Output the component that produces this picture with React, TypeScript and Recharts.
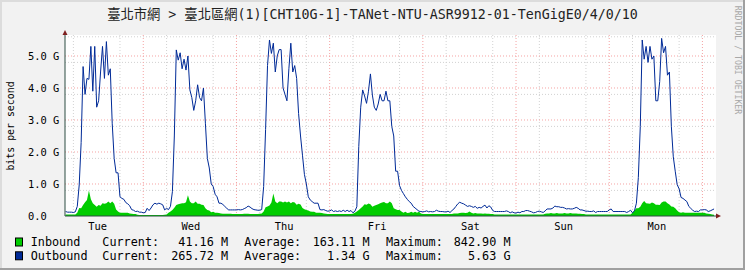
import {
  ComposedChart, Area, Line, XAxis, YAxis, CartesianGrid,
} from "recharts";

// samples every half hour, hours counted from Tue 00:00
const START_HOUR = 4;
const STEP = 0.5;

// Gbit/s
const outbound = [
  0.14, 0.12, 0.12, 0.12, 0.11, 0.13, 0.3, 0.97,
  2.3, 4.67, 3.8, 4.3, 4.27, 5.3, 3.9, 5.3,
  3.4, 3.6, 4.5, 5.3, 4.3, 5.45, 4.4, 4.6,
  2.9, 1.8, 1.35, 1.35, 0.6, 0.55, 0.52, 0.42,
  0.38, 0.32, 0.2, 0.18, 0.14, 0.15, 0.12, 0.12,
  0.1, 0.11, 0.24, 0.17, 0.25, 0.35, 0.4, 0.37,
  0.4, 0.38, 0.35, 0.19, 0.24, 0.2, 0.3, 0.76,
  2.5, 5.19, 4.87, 5.1, 4.6, 4.9, 4.56, 5.0,
  3.94, 3.7, 3.3, 3.6, 4.1, 3.7, 3.6, 4.0,
  2.9, 1.8, 1.5, 1.0, 0.92, 0.68, 0.6, 0.4,
  0.4, 0.36, 0.3, 0.24, 0.19, 0.19, 0.19, 0.19,
  0.19, 0.2, 0.19, 0.2, 0.23, 0.26, 0.31, 0.28,
  0.23, 0.2, 0.19, 0.18, 0.18, 0.2, 0.92, 2.7,
  4.7, 5.5, 5.08, 5.4, 4.5, 5.0, 5.2, 5.2,
  4.0, 3.8, 3.6, 4.6, 5.4, 4.5, 4.7, 4.3,
  3.2, 2.5, 1.9, 1.3, 1.0, 0.6, 0.5, 0.45,
  0.4, 0.4, 0.4, 0.2, 0.19, 0.2, 0.17, 0.15,
  0.16, 0.19, 0.14, 0.16, 0.14, 0.16, 0.14, 0.18,
  0.14, 0.18, 0.14, 0.17, 0.1, 0.15, 0.29, 2.17,
  3.4, 3.94, 3.75, 3.52, 3.9, 4.44, 3.78, 3.4,
  3.3, 3.5, 3.8, 3.6, 3.6, 3.9, 3.6, 3.6,
  2.8, 2.5, 1.4, 1.4, 0.95, 0.8, 0.7, 0.6,
  0.52, 0.45, 0.4, 0.3, 0.25, 0.2, 0.15, 0.14,
  0.13, 0.14, 0.16, 0.13, 0.14, 0.13, 0.14, 0.18,
  0.15, 0.14, 0.14, 0.13, 0.13, 0.15, 0.11, 0.17,
  0.22, 0.3, 0.38, 0.43, 0.4, 0.38, 0.34, 0.3,
  0.32, 0.3, 0.27, 0.3, 0.24, 0.27, 0.25, 0.3,
  0.34, 0.25, 0.32, 0.28, 0.17, 0.14, 0.14, 0.14,
  0.14, 0.14, 0.14, 0.16, 0.14, 0.1, 0.13, 0.1,
  0.09, 0.12, 0.1, 0.14, 0.14, 0.17, 0.17, 0.15,
  0.13, 0.1, 0.11, 0.14, 0.15, 0.13, 0.11, 0.16,
  0.22, 0.22, 0.22, 0.25, 0.31, 0.29, 0.29, 0.27,
  0.27, 0.25, 0.22, 0.23, 0.22, 0.22, 0.24, 0.27,
  0.24, 0.19, 0.19, 0.17, 0.15, 0.15, 0.14, 0.14,
  0.16, 0.11, 0.14, 0.14, 0.14, 0.14, 0.14, 0.14,
  0.19, 0.22, 0.14, 0.14, 0.14, 0.14, 0.14, 0.14,
  0.14, 0.11, 0.14, 0.18, 0.1, 0.16, 0.4, 1.2,
  2.8, 5.5, 4.9, 5.3, 4.8, 5.3, 4.9, 5.0,
  3.6, 3.6, 4.2, 5.55, 5.1, 5.3, 4.4, 4.5,
  2.8, 1.85, 1.4, 0.98, 0.85, 0.58, 0.55, 0.5,
  0.45, 0.3, 0.24, 0.18, 0.14, 0.15, 0.14, 0.19,
  0.19, 0.2, 0.19, 0.14, 0.16, 0.19, 0.22,
];

const inbound = [
  0.05, 0.05, 0.05, 0.05, 0.05, 0.05, 0.1, 0.25,
  0.24, 0.34, 0.43, 0.5, 0.8, 0.52, 0.4, 0.34,
  0.29, 0.34, 0.32, 0.4, 0.38, 0.4, 0.45, 0.4,
  0.45, 0.38, 0.2, 0.14, 0.1, 0.1, 0.1, 0.1,
  0.1, 0.08, 0.07, 0.06, 0.06, 0.04, 0.03, 0.03,
  0.03, 0.03, 0.03, 0.03, 0.03, 0.03, 0.03, 0.03,
  0.03, 0.03, 0.03, 0.04, 0.05, 0.1, 0.14, 0.19,
  0.26, 0.34, 0.37, 0.38, 0.4, 0.4, 0.43, 0.65,
  0.45, 0.4, 0.4, 0.45, 0.38, 0.38, 0.35, 0.34,
  0.24, 0.19, 0.17, 0.12, 0.13, 0.1, 0.1, 0.09,
  0.08, 0.07, 0.07, 0.07, 0.07, 0.07, 0.06, 0.06,
  0.06, 0.06, 0.06, 0.06, 0.07, 0.07, 0.07, 0.06,
  0.06, 0.06, 0.06, 0.06, 0.07, 0.08, 0.14, 0.27,
  0.3, 0.33, 0.42, 0.7, 0.45, 0.4, 0.45, 0.45,
  0.42, 0.45, 0.42, 0.45, 0.4, 0.44, 0.42, 0.35,
  0.38, 0.36, 0.25, 0.21, 0.19, 0.17, 0.14, 0.13,
  0.13, 0.1, 0.1, 0.1, 0.09, 0.08, 0.07, 0.06,
  0.06, 0.06, 0.06, 0.06, 0.06, 0.06, 0.06, 0.06,
  0.06, 0.06, 0.06, 0.06, 0.07, 0.1, 0.14, 0.19,
  0.24, 0.3, 0.37, 0.35, 0.39, 0.37, 0.29, 0.32,
  0.34, 0.37, 0.4, 0.42, 0.44, 0.4, 0.4, 0.45,
  0.4, 0.24, 0.21, 0.19, 0.19, 0.14, 0.1, 0.13,
  0.09, 0.1, 0.13, 0.1, 0.13, 0.1, 0.13, 0.08,
  0.06, 0.06, 0.06, 0.06, 0.06, 0.06, 0.06, 0.06,
  0.06, 0.06, 0.06, 0.06, 0.06, 0.06, 0.06, 0.06,
  0.08, 0.08, 0.08, 0.09, 0.1, 0.1, 0.09, 0.1,
  0.14, 0.1, 0.08, 0.09, 0.08, 0.08, 0.08, 0.07,
  0.08, 0.07, 0.07, 0.06, 0.06, 0.05, 0.05, 0.05,
  0.05, 0.05, 0.05, 0.05, 0.05, 0.05, 0.05, 0.05,
  0.05, 0.05, 0.05, 0.05, 0.05, 0.05, 0.05, 0.05,
  0.05, 0.05, 0.05, 0.05, 0.05, 0.05, 0.05, 0.07,
  0.08, 0.08, 0.09, 0.08, 0.08, 0.09, 0.08, 0.08,
  0.08, 0.09, 0.08, 0.08, 0.09, 0.08, 0.08, 0.08,
  0.07, 0.07, 0.06, 0.06, 0.05, 0.05, 0.05, 0.05,
  0.05, 0.05, 0.05, 0.05, 0.05, 0.05, 0.05, 0.05,
  0.05, 0.05, 0.05, 0.05, 0.05, 0.05, 0.05, 0.05,
  0.05, 0.05, 0.05, 0.05, 0.1, 0.17, 0.24, 0.24,
  0.29, 0.4, 0.47, 0.4, 0.39, 0.38, 0.42, 0.4,
  0.35, 0.35, 0.34, 0.42, 0.45, 0.45, 0.4, 0.36,
  0.3, 0.29, 0.24, 0.17, 0.12, 0.1, 0.12, 0.1,
  0.1, 0.1, 0.1, 0.1, 0.1, 0.1, 0.1, 0.1,
  0.1, 0.1, 0.08, 0.07, 0.06, 0.05, 0.04,
];

const dayLabels = ["Tue", "Wed", "Thu", "Fri", "Sat", "Sun", "Mon"];
const dayLabelHours = [12, 36, 60, 84, 108, 132, 156];
const midnightHours = [24, 48, 72, 96, 120, 144, 168];
const sixHourTicks = [
  6, 18, 30, 42, 54, 66, 78, 90, 102, 114, 126, 138, 150, 162,
];
const yTicks = [0, 1, 2, 3, 4, 5];
const yMinor = [
  0.2, 0.4, 0.6, 0.8, 1.2, 1.4, 1.6, 1.8, 2.2, 2.4, 2.6, 2.8,
  3.2, 3.4, 3.6, 3.8, 4.2, 4.4, 4.6, 4.8, 5.2, 5.4, 5.6,
];

const legendRows = [
  { name: "Inbound", color: "#00cc00", cur: "41.16 M", avg: "163.11 M", max: "842.90 M" },
  { name: "Outbound", color: "#002a97", cur: "265.72 M", avg: "1.34 G", max: "5.63 G" },
];

const TITLE = "臺北市網 > 臺北區網(1)[CHT10G-1]-TANet-NTU-ASR9912-01-TenGigE0/4/0/10";

const X_MIN = 3.84;
const X_MAX = 171.5;
const Y_MAX = 5.656;

const MONO = '"DejaVu Sans Mono", "Noto Sans CJK TC", monospace';

const rows = outbound.map((v, i) => ({
  h: START_HOUR + i * STEP,
  outbound: v,
  inbound: inbound[i],
}));

function DayTick(props: any) {
  const { x, payload } = props;
  const label = dayLabels[dayLabelHours.indexOf(payload.value)];
  return (
    <text x={x + 1} y={229.5} textAnchor="middle" fontSize={10.4} fontFamily={MONO} fill="#000">
      {label}
    </text>
  );
}

function GTick(props: any) {
  const { y, payload } = props;
  const v = payload.value as number;
  return (
    <text x={28} y={y + 3.7} fontSize={10.4} fontFamily={MONO} fill="#000">
      {v === 0 ? "0.0" : `${v.toFixed(1)} G`}
    </text>
  );
}

export default function App() {
  return (
    <div style={{ position: "absolute", left: 0, top: 0, width: 745, height: 270, background: "#f2f2f2" }}>
      <ComposedChart width={745} height={270} data={rows} margin={{ top: 35, right: 29, bottom: 34, left: 0 }}>
        <CartesianGrid
          fill="#ffffff" stroke="#d2d2d2" strokeDasharray="1 2"
          horizontalValues={yMinor} verticalValues={sixHourTicks}
        />
        <CartesianGrid
          fill="none" stroke="#f5a3a3" strokeDasharray="1 2"
          horizontalValues={yTicks.filter((t) => t > 0)} verticalValues={midnightHours}
        />
        <XAxis
          dataKey="h" type="number" domain={[X_MIN, X_MAX]} ticks={dayLabelHours}
          allowDataOverflow tick={<DayTick />} tickLine={false} height={20}
          axisLine={{ stroke: "#2c4d43" }}
        />
        <YAxis
          type="number" domain={[0, Y_MAX]} ticks={yTicks} allowDataOverflow
          width={65} tick={<GTick />} tickLine={false} axisLine={{ stroke: "#2c4d43" }}
        />
        <Area
          dataKey="inbound" type="linear" fill="#00cc00" fillOpacity={1}
          stroke="none" isAnimationActive={false}
        />
        <Line
          dataKey="outbound" type="linear" stroke="#002a97" strokeWidth={1}
          dot={false} isAnimationActive={false}
        />
      </ComposedChart>

      <svg width={745} height={270} style={{ position: "absolute", left: 0, top: 0, pointerEvents: "none" }}>
        {/* frame */}
        <rect x={0} y={0} width={745} height={2} fill="#dcdcdc" />
        <rect x={0} y={0} width={2} height={270} fill="#dcdcdc" />
        <rect x={0} y={268} width={745} height={2} fill="#a0a0a0" />
        <rect x={743} y={0} width={2} height={270} fill="#a0a0a0" />

        {/* axis arrows */}
        <polygon points="62.5,35 67.5,35 65,30" fill="#7f1f1f" />
        <polygon points="716,213.5 716,218.5 721,216" fill="#7f1f1f" />

        <text x={372.5} y={18.5} textAnchor="middle" fontSize={13.3} fontFamily={MONO} fill="#222">
          {TITLE}
        </text>

        <text
          x={10} y={126} textAnchor="middle" dominantBaseline="central"
          transform="rotate(-90 10 126)" fontSize={9.9} fontFamily={MONO} fill="#000"
        >
          bits per second
        </text>

        <text
          x={738.3} y={60} textAnchor="middle" dominantBaseline="central"
          transform="rotate(90 738.3 60)" fontSize={8.2} fontFamily={MONO} fill="#a8a8a8"
        >
          RRDTOOL / TOBI OETIKER
        </text>

        {legendRows.map((r, i) => {
          const y = 246.3 + i * 13.8;
          return (
            <g key={r.name} fontFamily={MONO} fontSize={11.8} fill="#000">
              <rect x={15.5} y={y - 8.3} width={7} height={8} fill={r.color} stroke="#000" strokeWidth={1} />
              <text x={30.7} y={y}>{r.name}</text>
              <text x={102.3} y={y}>Current:</text>
              <text x={228} y={y} textAnchor="end">{r.cur}</text>
              <text x={244.3} y={y}>Average:</text>
              <text x={369.5} y={y} textAnchor="end">{r.avg}</text>
              <text x={386} y={y}>Maximum:</text>
              <text x={510.5} y={y} textAnchor="end">{r.max}</text>
            </g>
          );
        })}
      </svg>
    </div>
  );
}
